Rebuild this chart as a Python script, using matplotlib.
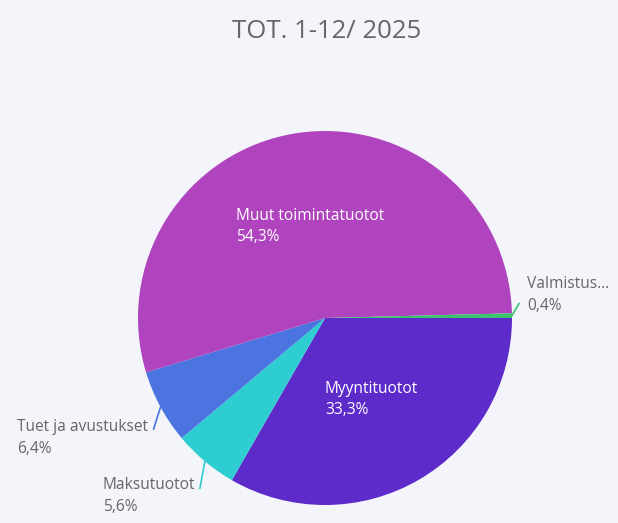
import numpy as np
import matplotlib.pyplot as plt

title = "TOT. 1-12/ 2025"
labels = ["Myyntituotot", "Maksutuotot", "Tuet ja avustukset", "Muut toimintatuotot", "Valmistus..."]
values = [33.3, 5.6, 6.4, 54.3, 0.4]
colors = ["#5C2BC9", "#2ECDD2", "#4B74E0", "#B044BE", "#3CC36E"]

W, H = 618, 523
BG = "#F3F5FA"
GREY = "#666666"
FONT = ["Open Sans", "DejaVu Sans"]

fig = plt.figure(figsize=(W / 100, H / 100), dpi=100, facecolor=BG)
ax = fig.add_axes([0, 0, 1, 1])
ax.set_facecolor(BG)

cx, cy, r = 325, H - 318, 187
wedges, _ = ax.pie(values, colors=colors, startangle=0, counterclock=False,
                   center=(cx, cy), radius=r, wedgeprops=dict(linewidth=0))
ax.set_xlim(0, W)
ax.set_ylim(0, H)
ax.set_aspect("auto")
ax.axis("off")

def pct(v):
    return f"{v:.1f}".replace(".", ",") + "%"

def edge(w):
    a = np.deg2rad((w.theta1 + w.theta2) / 2)
    return cx + r * np.cos(a), cy + r * np.sin(a)

ax.text(W / 2 + 18, H - 31, title, ha="center", va="center", fontsize=18.5,
        color=GREY, family=FONT)

# inside labels
inside = {0: (325, 389), 3: (236, 216)}
for i, (x, y) in inside.items():
    ax.text(x, H - y, labels[i], ha="left", va="center", fontsize=11.2,
            color="white", family=FONT)
    ax.text(x, H - y - 21, pct(values[i]), ha="left", va="center", fontsize=11.2,
            color="white", family=FONT)

# outside labels: (line end offset from edge, text x, text y)
outside = {4: ((7, 12), 527, 284), 2: ((-7, -22), 17, 427), 1: ((-5, -27), 103, 485)}
for i, ((dx, dy), tx, ty) in outside.items():
    ex, ey = edge(wedges[i])
    ax.plot([ex, ex + dx], [ey, ey + dy], color=colors[i], lw=1.2)
    ax.text(tx, H - ty, labels[i], ha="left", va="center", fontsize=11.2,
            color=GREY, family=FONT)
    ax.text(tx, H - ty - 22, pct(values[i]), ha="left", va="center", fontsize=11.2,
            color=GREY, family=FONT)

fig.savefig("out.png", dpi=100, facecolor=BG)
